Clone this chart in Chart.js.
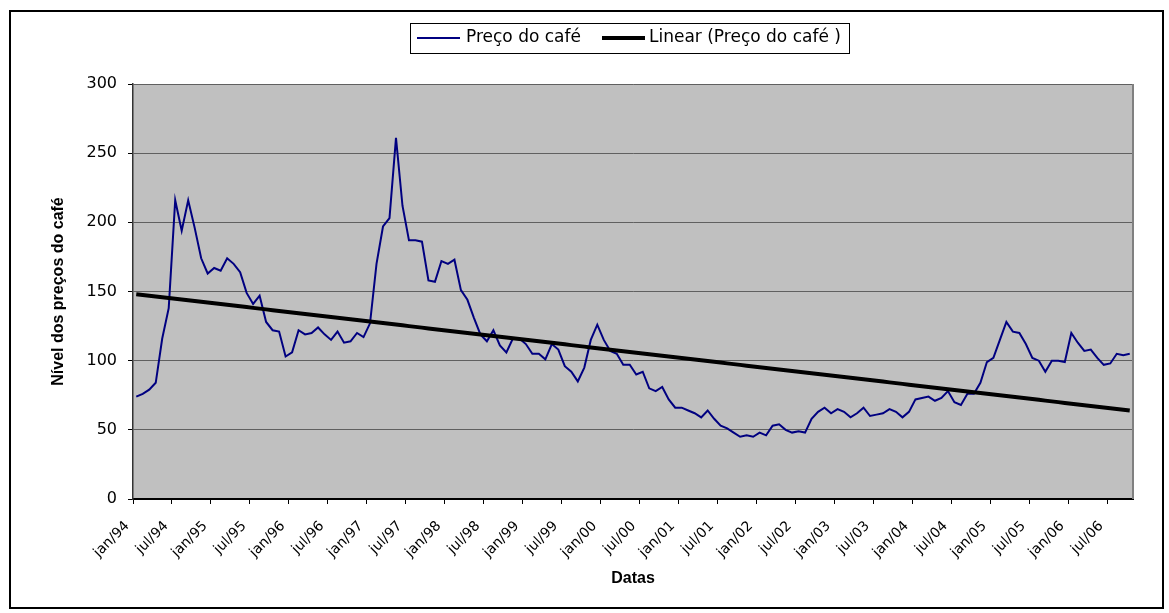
<!DOCTYPE html>
<html>
<head>
<meta charset="utf-8">
<script src="https://cdn.jsdelivr.net/npm/chart.js@4.4.1/dist/chart.umd.min.js"></script>
<style>
  html, body { margin: 0; padding: 0; background: #fff; }
  #wrap { width: 1169px; height: 613px; }
</style>
</head>
<body>
<div id="wrap"><canvas id="cafeChart" width="1169" height="613"></canvas></div>
<script>
// meses e anos do eixo x (jan/94 ate out/06)
const mesesNomes = ['jan', 'fev', 'mar', 'abr', 'mai', 'jun', 'jul', 'ago', 'set', 'out', 'nov', 'dez'];
const anos = ['94', '95', '96', '97', '98', '99', '00', '01', '02', '03', '04', '05', '06'];

// preço mensal do café
const precoCafe = [
  74, 76, 79, 84, 116, 138, 216, 194, 216, 196, 174, 163,
  167, 165, 174, 170, 164, 149, 141, 147, 128, 122, 121, 103,
  106, 122, 119, 120, 124, 119, 115, 121, 113, 114, 120, 117,
  127, 170, 197, 203, 261, 212, 187, 187, 186, 158, 157, 172,
  170, 173, 151, 144, 131, 119, 114, 122, 111, 106, 116, 116,
  112, 105, 105, 101, 112, 108, 96, 92, 85, 95, 115, 126,
  115, 107, 105, 97, 97, 90, 92, 80, 78, 81, 72, 66,
  66, 64, 62, 59, 64, 58, 53, 51, 48, 45, 46, 45,
  48, 46, 53, 54, 50, 48, 49, 48, 58, 63, 66, 62,
  65, 63, 59, 62, 66, 60, 61, 62, 65, 63, 59, 63,
  72, 73, 74, 71, 73, 78, 70, 68, 76, 76, 84, 99,
  102, 115, 128, 121, 120, 112, 102, 100, 92, 100, 100, 99,
  120, 113, 107, 108, 102, 97, 98, 105, 104, 105
];

const yTicks = [0, 50, 100, 150, 200, 250, 300];

let meses = [];
anos.forEach(a => mesesNomes.forEach(m => meses.push(m + '/' + a)));
meses = meses.slice(0, precoCafe.length);

// tendencia linear (minimos quadrados, como no Excel)
const n = precoCafe.length;
let sx = 0, sy = 0, sxy = 0, sxx = 0;
precoCafe.forEach((v, i) => {
  const x = i + 1;
  sx += x; sy += v; sxy += x * v; sxx += x * x;
});
const slope = (n * sxy - sx * sy) / (n * sxx - sx * sx);
const intercept = (sy - slope * sx) / n;
const tendencia = precoCafe.map((v, i) => intercept + slope * (i + 1));

// fundo, moldura e legenda
const moldura = {
  id: 'moldura',
  beforeDraw(chart) {
    const { ctx, chartArea: a } = chart;
    ctx.save();
    ctx.fillStyle = '#fff';
    ctx.fillRect(0, 0, chart.width, chart.height);
    ctx.fillStyle = '#C0C0C0';
    ctx.fillRect(a.left, a.top, a.right - a.left, a.bottom - a.top);
    ctx.restore();
  },
  afterDraw(chart) {
    const { ctx, chartArea: a } = chart;
    ctx.save();
    // borda direita da area do grafico
    ctx.strokeStyle = '#808080';
    ctx.lineWidth = 2;
    ctx.beginPath();
    ctx.moveTo(a.right, a.top);
    ctx.lineTo(a.right, a.bottom);
    ctx.stroke();
    // moldura externa
    ctx.strokeStyle = '#000';
    ctx.lineWidth = 2;
    ctx.strokeRect(10, 11, 1153, 597);
    // legenda
    ctx.fillStyle = '#fff';
    ctx.fillRect(410, 23, 439, 30);
    ctx.lineWidth = 1;
    ctx.strokeStyle = '#000';
    ctx.strokeRect(410.5, 23.5, 439, 30);
    const ds = chart.data.datasets;
    const items = [[417, 466], [602, 649]];
    ctx.font = '17px "DejaVu Sans"';
    ctx.textBaseline = 'middle';
    items.forEach((it, k) => {
      ctx.strokeStyle = ds[k].borderColor;
      ctx.lineWidth = ds[k].borderWidth;
      ctx.beginPath();
      ctx.moveTo(it[0], 38);
      ctx.lineTo(it[0] + 43, 38);
      ctx.stroke();
      ctx.fillStyle = '#000';
      ctx.fillText(ds[k].label, it[1], 38);
    });
    ctx.restore();
  }
};

let cafeChart = new Chart('cafeChart', {
  type: 'line',
  data: {
    labels: meses,
    datasets: [{
      label: 'Preço do café',
      data: precoCafe,
      borderColor: '#000080',
      borderWidth: 2,
      pointRadius: 0,
      tension: 0,
      order: 1
    }, {
      label: 'Linear (Preço do café )',
      data: tendencia,
      borderColor: '#000000',
      borderWidth: 4,
      pointRadius: 0,
      tension: 0,
      order: 0
    }]
  },
  options: {
    responsive: false,
    animation: false,
    devicePixelRatio: 1,
    layout: {
      padding: { top: 84, left: 0, right: 36, bottom: 0 }
    },
    plugins: {
      legend: { display: false },
      tooltip: { enabled: false }
    },
    scales: {
      x: {
        offset: true,
        afterFit: (s) => { s.height = 114; },
        grid: {
          offset: true,
          drawOnChartArea: false,
          tickLength: 5,
          color: (c) => c.index % 6 === 0 ? '#000' : 'rgba(0,0,0,0)',
          tickColor: (c) => c.index % 6 === 0 ? '#000' : 'rgba(0,0,0,0)'
        },
        border: { color: '#000', width: 2 },
        ticks: {
          autoSkip: false,
          maxRotation: 45,
          minRotation: 45,
          padding: 14,
          labelOffset: -9,
          color: '#000',
          font: { family: "'DejaVu Sans'", size: 14 },
          callback: function (v, i) {
            return i % 6 === 0 ? meses[i] : '';
          }
        },
        title: {
          display: true,
          text: 'Datas',
          color: '#000',
          font: { family: "'Liberation Sans'", size: 16, weight: 'bold' },
          padding: { top: 0, bottom: 25 }
        }
      },
      y: {
        min: 0,
        max: 300,
        afterFit: (s) => { s.width = 133; },
        afterBuildTicks: (s) => { s.ticks = yTicks.map(v => ({ value: v })); },
        grid: {
          color: '#606060',
          lineWidth: 1,
          tickLength: 5,
          tickColor: '#000'
        },
        border: { color: '#333', width: 1.5 },
        ticks: {
          padding: 11,
          color: '#000',
          font: { family: "'DejaVu Sans'", size: 16 }
        },
        title: {
          display: true,
          text: 'Nível dos preços do café',
          color: '#000',
          font: { family: "'Liberation Sans'", size: 16, weight: 'bold' },
          padding: { top: 49, bottom: 0 }
        }
      }
    }
  },
  plugins: [moldura]
});
</script>
</body>
</html>
